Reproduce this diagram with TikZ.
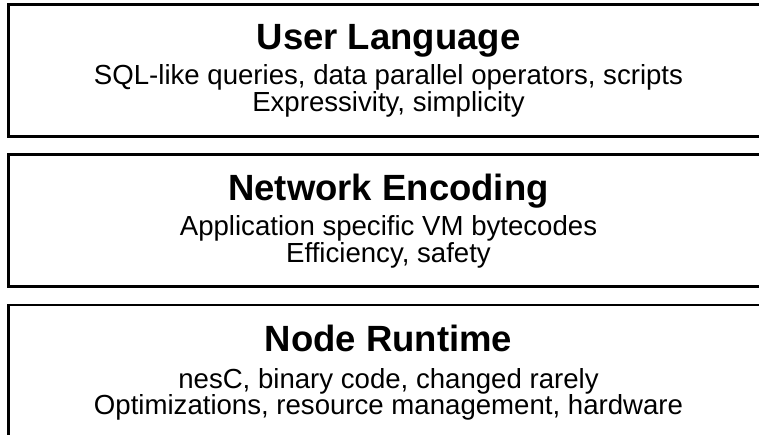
\documentclass[tikz,border=0pt]{standalone}
\usepackage{fontspec}
\setmainfont{Liberation Sans}
\tikzset{
  layerbox/.style={draw=black, line width=2.7pt, fill=white, inner sep=0pt, minimum width=760pt, minimum height=132.4pt},
  titletext/.style={anchor=base, inner sep=0pt, font=\fontsize{36.5}{40}\selectfont\bfseries},
  bodytext/.style={anchor=base, inner sep=0pt, font=\fontsize{27.6}{30}\selectfont},
}
\begin{document}
\begin{tikzpicture}[x=1pt,y=-1pt]
\useasboundingbox (0,0) rectangle (759,435);
\clip (0,0) rectangle (759,435);
\fill[white] (0,0) rectangle (759,435);
% boxes
\node[layerbox] (b1) at (388.5,70.5) {};
\node[layerbox] (b2) at (388.5,220.6) {};
\node[layerbox] (b3) at (388.5,371.2) {};
% box 1
\node[titletext] (t1) at (388.5,50) {User Language};
\node[bodytext] (s1a) at (388.5,85) {SQL-like queries, data parallel operators, scripts};
\node[bodytext] (s1b) at (388.5,111.5) {Expressivity, simplicity};
% box 2
\node[titletext] (t2) at (388.5,200.5) {Network Encoding};
\node[bodytext] (s2a) at (388.5,236) {Application specific VM bytecodes};
\node[bodytext] (s2b) at (388.5,262.5) {Efficiency, safety};
% box 3
\node[titletext] (t3) at (388.5,351.5) {Node Runtime};
\node[bodytext] (s3a) at (388.5,388) {nesC, binary code, changed rarely};
\node[bodytext] (s3b) at (388.5,414.5) {Optimizations, resource management, hardware};
\end{tikzpicture}
\end{document}
